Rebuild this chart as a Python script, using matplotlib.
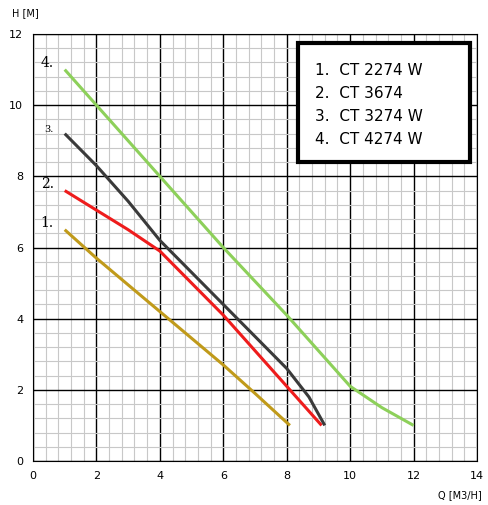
import matplotlib
matplotlib.use("Agg")
import matplotlib.pyplot as plt
from matplotlib.patches import Rectangle
import numpy as np

q1 = [1, 2, 3, 4, 5, 6, 7, 8.1]
h1 = [6.5, 5.7, 4.95, 4.2, 3.45, 2.7, 1.9, 1.0]
q2 = [1, 2, 3, 4, 5, 6, 7, 8, 9.1]
h2 = [7.6, 7.05, 6.5, 5.9, 5.0, 4.1, 3.1, 2.1, 1.0]
q3 = [1, 2, 3, 4, 5, 6, 7, 8, 8.7, 9.2]
h3 = [9.2, 8.3, 7.3, 6.2, 5.3, 4.4, 3.5, 2.6, 1.8, 1.0]
q4 = [1, 2, 4, 6, 8, 9, 10, 11, 12]
h4 = [11.0, 10.0, 8.0, 6.0, 4.1, 3.1, 2.1, 1.5, 1.0]
names = ["1.  CT 2274 W", "2.  CT 3674", "3.  CT 3274 W", "4.  CT 4274 W"]
colors = ["#c09a1a", "#ee1c1c", "#3a3a3a", "#8dd05a"]
tags = ["1.", "2.", "3.", "4."]

fig = plt.figure(figsize=(4.89, 5.05), dpi=100)
ax = fig.add_axes([33 / 489, 44 / 505, 444 / 489, 427 / 505])
ax.set_xlim(0, 14)
ax.set_ylim(0, 12)
ax.set_xticks(np.arange(0, 15, 2))
ax.set_yticks(np.arange(0, 13, 2))
ax.set_xticks([v for v in np.arange(0, 14.01, 0.4) if abs(v / 2 - round(v / 2)) > 0.01], minor=True)
ax.set_yticks([v for v in np.arange(0, 12.01, 0.4) if abs(v / 2 - round(v / 2)) > 0.01], minor=True)
ax.grid(which="minor", color="#c8c8c8", linewidth=0.8)
ax.grid(which="major", color="black", linewidth=1.0)
ax.tick_params(which="both", length=0, labelsize=8, pad=7)

for q, h, c, t in zip([q1, q2, q3, q4], [h1, h2, h3, h4], colors, tags):
    ax.plot(q, h, color=c, linewidth=2.2, solid_capstyle="butt")
    ax.text(q[0] - 0.35, h[0], t, ha="right", va="bottom", family="DejaVu Serif",
            fontsize=10 if t != "3." else 7)

ax.add_patch(Rectangle((8.36, 8.4), 5.42, 3.34, facecolor="white", edgecolor="black",
                       linewidth=3, zorder=5))
for i, n in enumerate(names):
    ax.text(8.9, 10.98 - i * 0.65, n, fontsize=11, va="center", zorder=6)

fig.text(0.025, 0.975, "H [M]", fontsize=7, va="center")
fig.text(0.985, 0.02, "Q [M3/H]", fontsize=7, ha="right", va="center")
fig.savefig("out.png", dpi=100)
